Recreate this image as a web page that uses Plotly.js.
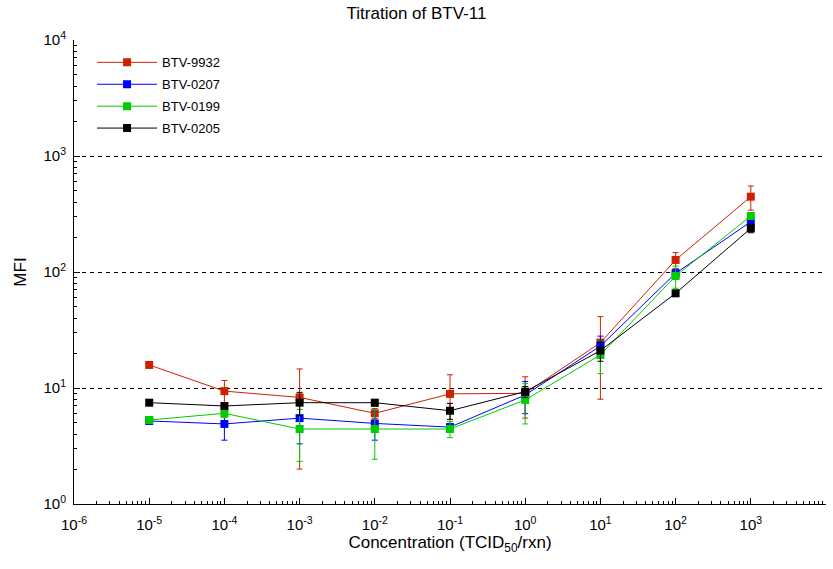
<!DOCTYPE html>
<html>
<head>
<meta charset="utf-8">
<script src="https://cdn.plot.ly/plotly-3.0.1.min.js"></script>
<style>html,body{margin:0;padding:0;background:#fff;}#chart{width:833px;height:569px;}</style>
</head>
<body>
<div id="chart"></div>
<script>
const concentration = [1e-5, 1e-4, 1e-3, 1e-2, 1e-1, 1e0, 1e1, 1e2, 1e3];
const seriesNames = ["BTV-9932", "BTV-0207", "BTV-0199", "BTV-0205"];
const btv9932 = [15.8, 9.4, 8.3, 6.05, 8.9, 9.0, 24.6, 127, 446];
const btv9932Err = [0, 2.2, 6.3, 0.6, 4.1, 3.5, 16.6, 20, 105];
const btv0207 = [5.2, 4.9, 5.5, 4.95, 4.6, 8.7, 23, 97.5, 271];
const btv0207Err = [0.2, 1.35, 2.2, 1.4, 0.3, 2.7, 5, 8, 20];
const btv0199 = [5.3, 6.05, 4.43, 4.43, 4.43, 7.9, 19.3, 92.4, 304];
const btv0199Err = [0.3, 0.5, 2.1, 2.0, 0.7, 3.0, 6, 20, 20];
const btv0205 = [7.47, 7.0, 7.47, 7.47, 6.37, 9.3, 21, 65.5, 238];
const btv0205Err = [0.3, 0.4, 1.7, 0.5, 1.0, 1.0, 4, 4, 20];
const xTickVals = [1e-6, 1e-5, 1e-4, 1e-3, 1e-2, 1e-1, 1e0, 1e1, 1e2, 1e3, 1e4];
const xTickText = ["10<sup>-6</sup>", "10<sup>-5</sup>", "10<sup>-4</sup>", "10<sup>-3</sup>", "10<sup>-2</sup>", "10<sup>-1</sup>", "10<sup>0</sup>", "10<sup>1</sup>", "10<sup>2</sup>", "10<sup>3</sup>", "10<sup>4</sup>"];
const yTickVals = [1, 10, 100, 1000, 10000];
const yTickText = ["10<sup>0</sup>", "10<sup>1</sup>", "10<sup>2</sup>", "10<sup>3</sup>", "10<sup>4</sup>"];
const colors = ["#cc2200", "#0000ff", "#00cc00", "#000000"];

const values = [btv9932, btv0207, btv0199, btv0205];
const errs = [btv9932Err, btv0207Err, btv0199Err, btv0205Err];

const traces = values.map((v, i) => ({
  type: "scatter",
  mode: "lines+markers",
  x: concentration,
  y: v,
  name: seriesNames[i],
  legendgroup: "g" + i,
  line: {color: colors[i], width: 1},
  marker: {color: colors[i], symbol: "square", size: 8},
  error_y: {type: "data", array: errs[i], visible: true, color: colors[i], thickness: 1, width: 3}
}));

const fontFam = "Liberation Sans Narrow, Liberation Sans, Arial, sans-serif";
const layout = {
  width: 833, height: 569,
  margin: {l: 74, r: 7, t: 40, b: 65},
  paper_bgcolor: "#fff", plot_bgcolor: "#fff",
  font: {family: fontFam, color: "#000", size: 13},
  title: {text: "Titration of BTV-11", x: 0.5, xanchor: "center", y: 0.977, yanchor: "middle", font: {size: 17, family: fontFam}},
  showlegend: true,
  legend: {x: 0.024, y: 0.984, xanchor: "left", yanchor: "top", bgcolor: "rgba(0,0,0,0)", borderwidth: 0,
           font: {size: 13, family: fontFam}, itemwidth: 60, tracegroupgap: 2},
  xaxis: {
    type: "log", range: [-6, 4], tickmode: "array", tickvals: xTickVals, ticktext: xTickText,
    showgrid: false, zeroline: false,
    showline: true, linecolor: "#000", linewidth: 1, mirror: false,
    ticks: "inside", ticklen: 6, tickcolor: "#000",
    minor: {ticks: "inside", ticklen: 3, tickcolor: "#000", dtick: "D1", showgrid: false},
    tickfont: {size: 15}, ticklabelstandoff: 7,
    title: {text: "Concentration (TCID<sub>50</sub>/rxn)", font: {size: 17}, standoff: 4}
  },
  yaxis: {
    type: "log", range: [0, 4], tickmode: "array", tickvals: yTickVals, ticktext: yTickText,
    showgrid: true, gridcolor: "#000", gridwidth: 1, griddash: "4px,4px",
    zeroline: false,
    showline: true, linecolor: "#000", linewidth: 1, mirror: false,
    ticks: "inside", ticklen: 6, tickcolor: "#000",
    minor: {ticks: "inside", ticklen: 3, tickcolor: "#000", dtick: "D1", showgrid: false},
    tickfont: {size: 15}, ticklabelstandoff: 4,
    title: {text: "MFI", font: {size: 17}, standoff: 12}
  }
};

Plotly.newPlot("chart", traces, layout, {displayModeBar: false, staticPlot: true});
</script>
</body>
</html>
